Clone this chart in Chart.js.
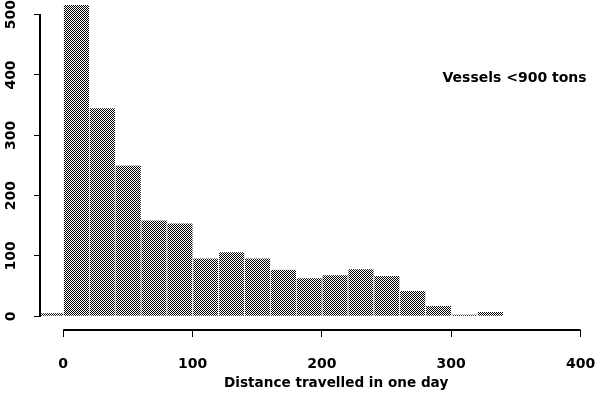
<!DOCTYPE html>
<html>
<head>
<meta charset="utf-8">
<script src="https://cdn.jsdelivr.net/npm/chart.js@4"></script>
<style>
  html, body { margin: 0; padding: 0; background: #fff; }
  #wrap { width: 599px; height: 395px; }
</style>
</head>
<body>
<div id="wrap"><canvas id="hist" width="599" height="395"></canvas></div>
<script>
// histogram bins (left edges, width 20) and counts
const binStarts = [-20, 0, 20, 40, 60, 80, 100, 120, 140, 160, 180, 200, 220, 240, 260, 280, 300, 320]
const counts = [5, 516, 345, 250, 159, 154, 96, 106, 96, 77, 63, 68, 78, 67, 42, 17, 3, 7]
const binWidth = 20
const xTicks = [0, 100, 200, 300, 400]
const yTicks = [0, 100, 200, 300, 400, 500]
const xTitle = 'Distance travelled in one day'
const note = 'Vessels <900 tons'

// checkerboard dither like the old plot
function dither(ctx) {
  const c = document.createElement('canvas')
  c.width = 2
  c.height = 2
  const g = c.getContext('2d')
  g.fillStyle = '#fff'
  g.fillRect(0, 0, 2, 2)
  g.fillStyle = '#000'
  g.fillRect(0, 0, 1, 1)
  g.fillRect(1, 1, 1, 1)
  return ctx.createPattern(c, 'repeat')
}

// R-style axis lines that only span the tick range, the x title and the note
const axisLines = {
  id: 'axisLines',
  afterDraw(chart) {
    const { ctx, chartArea, scales } = chart
    const x = scales.x
    const y = scales.y
    ctx.save()
    ctx.strokeStyle = '#000'
    ctx.lineWidth = 2
    ctx.beginPath()
    ctx.moveTo(chartArea.left - 1, y.getPixelForValue(yTicks[0]))
    ctx.lineTo(chartArea.left - 1, y.getPixelForValue(yTicks[yTicks.length - 1]))
    ctx.moveTo(x.getPixelForValue(xTicks[0]), chartArea.bottom)
    ctx.lineTo(x.getPixelForValue(xTicks[xTicks.length - 1]), chartArea.bottom)
    ctx.stroke()
    ctx.fillStyle = '#000'
    ctx.textAlign = 'center'
    ctx.textBaseline = 'middle'
    ctx.font = 'bold 14px "DejaVu Sans"'
    ctx.fillText(note, x.getPixelForValue(349), y.getPixelForValue(395))
    ctx.font = 'bold 13.6px "DejaVu Sans"'
    ctx.fillText(xTitle, x.getPixelForValue(211), x.bottom - 12)
    ctx.restore()
  }
}

Chart.defaults.font.family = '"DejaVu Sans"'
Chart.defaults.font.size = 14
Chart.defaults.font.weight = 'bold'
Chart.defaults.color = '#000'

const ctx = document.getElementById('hist').getContext('2d')

new Chart(ctx, {
  type: 'bar',
  data: {
    datasets: [{
      data: binStarts.map((s, i) => ({ x: s + binWidth / 2, y: counts[i] })),
      backgroundColor: dither(ctx),
      borderColor: '#fff',
      borderWidth: { left: 1, right: 0, top: 0, bottom: 0 },
      borderSkipped: false,
      barPercentage: 1,
      categoryPercentage: 1
    }]
  },
  options: {
    responsive: false,
    animation: false,
    layout: { padding: { left: 0, right: 16, top: 2, bottom: 0 } },
    plugins: { legend: { display: false }, tooltip: { enabled: false } },
    scales: {
      x: {
        type: 'linear',
        offset: false,
        min: -17.2,
        max: 401.9,
        afterBuildTicks: (s) => { s.ticks = xTicks.map(v => ({ value: v })) },
        afterFit: (s) => {
          s.height = 65
          s.paddingLeft = 0
          s.paddingRight = 0
        },
        grid: { drawOnChartArea: false, tickLength: 7, color: '#000', offset: false },
        border: { display: false },
        ticks: { padding: 19, maxRotation: 0 },
        title: { display: false }
      },
      y: {
        min: -22.7,
        max: 521,
        afterBuildTicks: (s) => { s.ticks = yTicks.map(v => ({ value: v })) },
        afterFit: (s) => {
          s.width = 41
          s.paddingTop = 0
          s.paddingBottom = 0
        },
        grid: { drawOnChartArea: false, tickLength: 7, color: '#000' },
        border: { display: false },
        ticks: { minRotation: 90, maxRotation: 90, crossAlign: 'center', padding: 8 }
      }
    }
  },
  plugins: [axisLines]
})
</script>
</body>
</html>
